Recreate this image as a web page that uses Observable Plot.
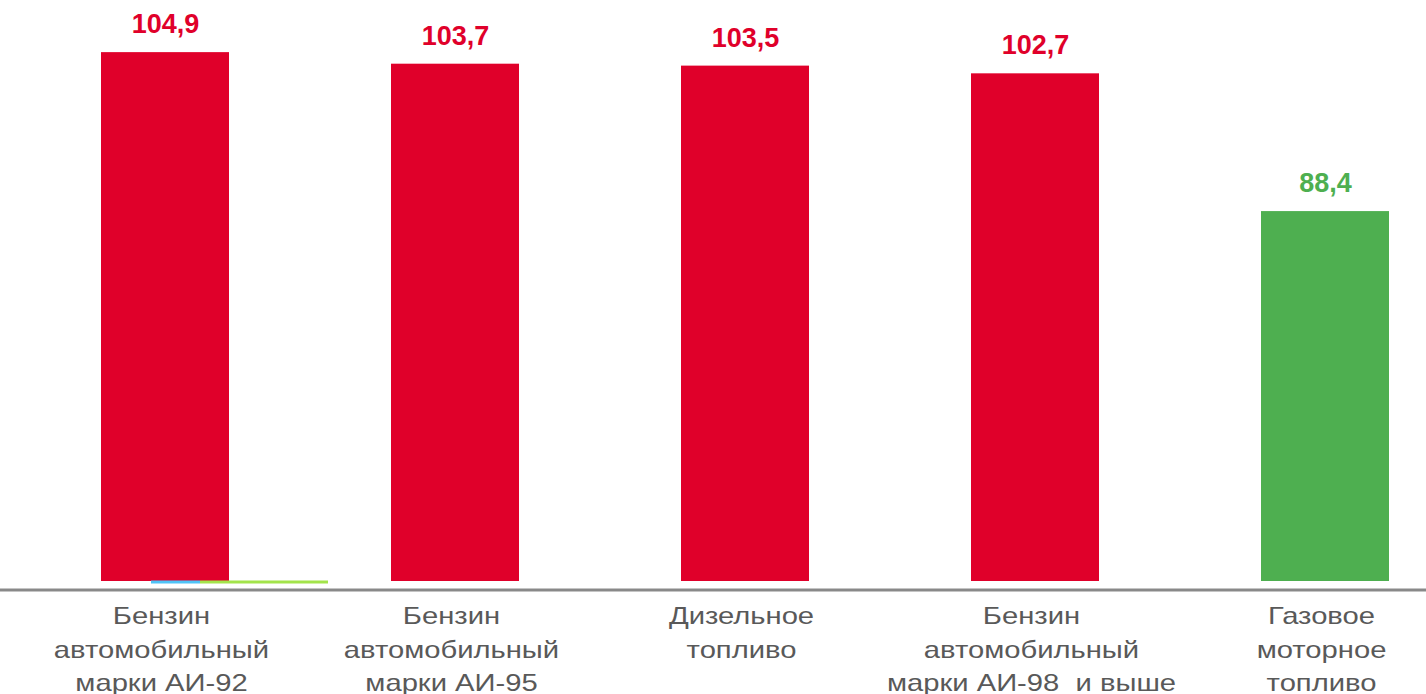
<!DOCTYPE html>
<html>
<head>
<meta charset="utf-8">
<script src="https://cdn.jsdelivr.net/npm/d3@7"></script>
<script src="https://cdn.jsdelivr.net/npm/@observablehq/plot@0.6"></script>
<style>
  html, body { margin: 0; padding: 0; background: #fff; }
  #chart svg { display: block; }
</style>
</head>
<body>
<div id="chart"></div>
<script>
const categories = [
  "Бензин\nавтомобильный\nмарки АИ-92",
  "Бензин\nавтомобильный\nмарки АИ-95",
  "Дизельное\nтопливо",
  "Бензин\nавтомобильный\nмарки АИ-98  и выше",
  "Газовое\nмоторное\nтопливо"
];
const values = [104.9, 103.7, 103.5, 102.7, 88.4];

const RED = "#E0002A";
const GREEN = "#4EAF50";
const data = categories.map((c, i) => ({cat: c, value: values[i]}));
const colorOf = d => d.value >= 100 ? RED : GREEN;
const fmt = v => v.toFixed(1).replace(".", ",");

const chart = Plot.plot({
  width: 1426,
  height: 694,
  marginLeft: 0,
  marginRight: 0,
  marginTop: 3,
  marginBottom: 113,
  style: {fontFamily: "'Liberation Sans', Arial, sans-serif", background: "#fff"},
  x: {domain: categories, range: [100, 1390], paddingInner: 0.56, paddingOuter: 0},
  y: {domain: [50, 110], axis: null},
  marks: [
    Plot.barY(data, {x: "cat", y1: 50, y2: "value", fill: colorOf}),
    Plot.tickY([categories[0]], {x: d => d, y: () => 50, stroke: "#4FC3F7", strokeWidth: 3, insetLeft: 50, insetRight: 29, dy: 0.5}),
    Plot.tickY([categories[0]], {x: d => d, y: () => 50, stroke: "#A3E44B", strokeWidth: 3, insetLeft: 99, insetRight: -99, dy: 0.5}),
    Plot.ruleY([50], {stroke: "#898989", strokeWidth: 3, dy: 8.5}),
    Plot.text(data, {x: "cat", y: "value", text: d => fmt(d.value), fill: colorOf, fontWeight: "bold", fontSize: 27, lineAnchor: "middle", dy: -28}),
    Plot.axisX({tickSize: 0, tickPadding: 19, fontSize: 23, lineHeight: 1.45, fill: "#595959", label: null, dx: -4}),
  ]
});
// category labels in the reference are horizontally wider than the font's natural width
d3.select(chart).selectAll("g[aria-label='x-axis tick label'] text")
  .attr("transform", function() { return (this.getAttribute("transform") || "") + " scale(1.27,1)"; });
document.getElementById("chart").appendChild(chart);
</script>
</body>
</html>
